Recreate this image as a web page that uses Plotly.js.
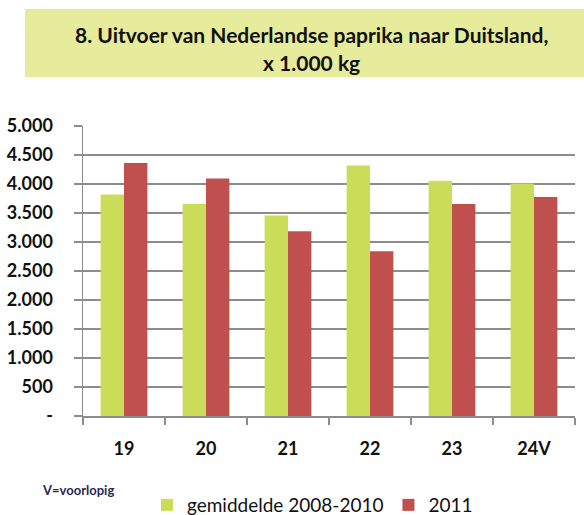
<!DOCTYPE html>
<html><head><meta charset="utf-8">
<script src="https://cdn.plot.ly/plotly-3.0.1.min.js"></script>
<style>html,body{margin:0;padding:0;background:#fff;overflow:hidden}#c{width:584px;height:515px}</style>
</head><body><div id="c"></div>
<script>
const categories = ['19', '20', '21', '22', '23', '24V'];
const gemiddelde = [3820, 3660, 3455, 4320, 4055, 4010];
const jaar2011 = [4360, 4095, 3185, 2840, 3655, 3775];
const seriesNames = ['gemiddelde 2008-2010', '2011'];
const yTickVals = [0, 500, 1000, 1500, 2000, 2500, 3000, 3500, 4000, 4500, 5000];
const yTickText = ['-', '500', '1.000', '1.500', '2.000', '2.500', '3.000', '3.500', '4.000', '4.500', '5.000'];
const titleLines = ['8. Uitvoer van Nederlandse paprika naar Duitsland,', 'x 1.000 kg'];
const noteText = 'V=voorlopig';

const F = 'Lato, "Open Sans", sans-serif';
const data = [
  {type: 'bar', x: categories, y: gemiddelde, name: seriesNames[0], marker: {color: '#cadd58'}},
  {type: 'bar', x: categories, y: jaar2011, name: seriesNames[1], marker: {color: '#c0504d'}}
];
const layout = {
  width: 584, height: 515,
  margin: {l: 83, r: 9, t: 126, b: 99, autoexpand: false},
  paper_bgcolor: '#fff', plot_bgcolor: '#fff',
  barmode: 'group', bargap: 0.43, bargroupgap: 0,
  showlegend: true,
  legend: {orientation: 'h', x: 0.13, xanchor: 'left', y: (416 - 505) / 290, yanchor: 'middle',
           font: {family: F, size: 19, color: '#111'}, traceorder: 'normal', itemwidth: 30, tracegroupgap: 0},
  font: {family: F, size: 16, color: '#111'},
  xaxis: {type: 'category', showline: true, linecolor: '#8c8c8c', linewidth: 1.5,
          ticks: 'outside', tickson: 'boundaries', ticklen: 7, tickcolor: '#8c8c8c', tickwidth: 1.5,
          ticklabelstandoff: 16,
          tickfont: {family: F, size: 18, color: '#111', weight: 'bold'}, showgrid: false, fixedrange: true},
  yaxis: {range: [0, 5000], tickvals: yTickVals, ticktext: yTickText, showline: true, linecolor: '#8c8c8c', linewidth: 1.5,
          showgrid: true, gridcolor: '#8c8c8c', gridwidth: 1.5, ticks: 'outside', ticklen: 8, tickcolor: '#8c8c8c', tickwidth: 1.5,
          ticklabelstandoff: 17,
          tickfont: {family: F, size: 18, color: '#111', weight: 'bold'}, zeroline: false, fixedrange: true},
  annotations: [
    {xref: 'paper', yref: 'paper', x: (584 - 83) / 492, y: (416 - 9.5) / 290, xanchor: 'right', yanchor: 'top',
     text: ' ', showarrow: false, width: 557, height: 66, bgcolor: '#e6ec9c', borderwidth: 0, borderpad: 1,
     font: {family: F, size: 10}},
    {xref: 'paper', yref: 'paper', x: (311 - 83) / 492, y: (416 - 35) / 290, xanchor: 'center', yanchor: 'middle',
     text: '<b>' + titleLines[0] + '</b>', showarrow: false, font: {family: F, size: 21, color: '#111'}},
    {xref: 'paper', yref: 'paper', x: (311 - 83) / 492, y: (416 - 62) / 290, xanchor: 'center', yanchor: 'middle',
     text: '<b>' + titleLines[1] + '</b>', showarrow: false, font: {family: F, size: 21, color: '#111'}},
    {xref: 'paper', yref: 'paper', x: (40 - 83) / 492, y: (416 - 490) / 290, xanchor: 'left', yanchor: 'middle',
     text: '<b>' + noteText + '</b>', showarrow: false, font: {family: F, size: 13, color: '#2a2a55'}}
  ]
};
Plotly.newPlot('c', data, layout, {displayModeBar: false, staticPlot: true});
</script></body></html>
